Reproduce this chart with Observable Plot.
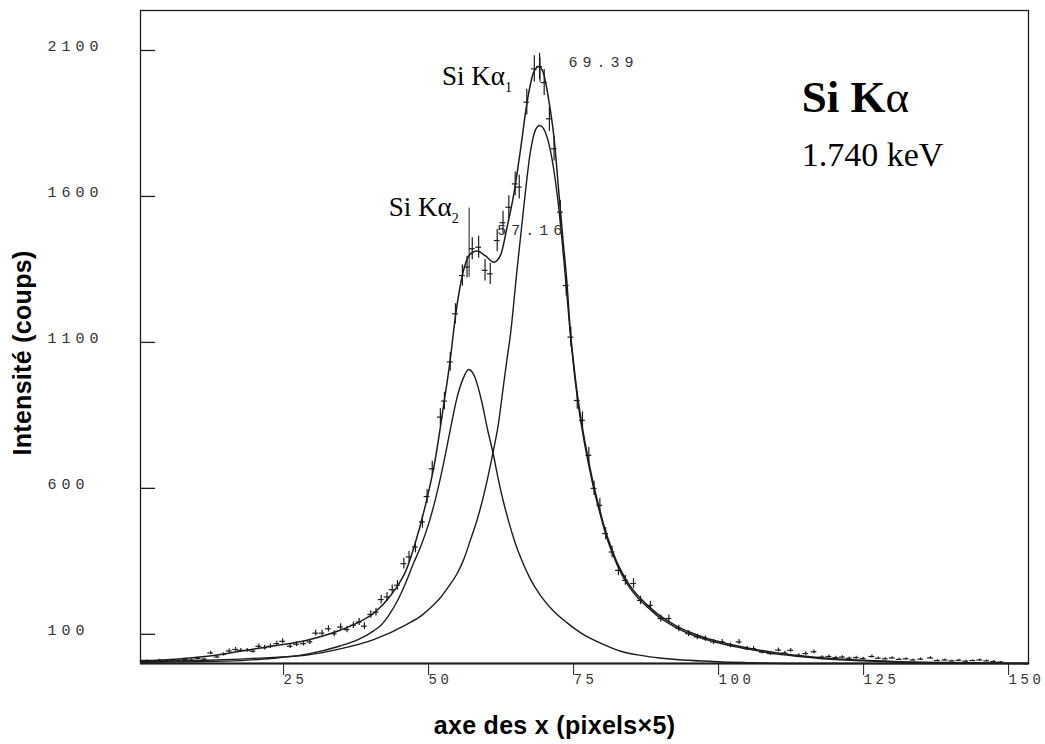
<!DOCTYPE html>
<html><head><meta charset="utf-8">
<script src="https://cdn.jsdelivr.net/npm/d3@7"></script>
<script src="https://cdn.jsdelivr.net/npm/@observablehq/plot@0.6"></script>
<style>
body{margin:0;background:#fff}
</style></head><body><div id="chart"></div>
<script>
// ---- axis ticks ----
const xTicks = [25, 50, 75, 100, 125, 150];
const yTicks = [100, 600, 1100, 1600, 2100];

// ---- measured spectrum (counts) ----
const dataX = [
  1.6,2.7,3.8,4.9,6.0,7.1,8.2,9.3,10.4,11.5,
  12.6,13.7,14.8,15.8,16.9,17.8,18.9,19.9,20.9,21.9,
  22.9,24.0,25.0,26.3,27.4,28.6,29.7,30.7,31.8,32.9,
  33.9,35.0,36.1,37.2,38.2,39.1,40.2,41.1,42.0,43.0,
  43.9,44.8,45.9,46.8,47.9,49.1,49.9,50.8,52.2,52.9,
  53.9,54.8,56.0,56.8,57.7,58.8,59.9,60.8,62.0,63.0,
  64.0,65.1,65.8,67.1,68.4,69.3,70.1,71.0,71.8,72.9,
  73.9,74.7,75.8,76.7,77.8,78.7,79.7,80.7,81.8,82.9,
  84.1,85.5,86.7,88.4,90.2,91.6,93.3,95.0,96.5,97.9,
  99.3,100.8,102.2,103.7,105.1,106.2,107.7,109.1,110.5,111.6,
  112.6,114.0,115.2,116.6,118.0,119.2,120.4,121.5,122.7,123.9,
  125.1,126.6,127.7,128.9,130.1,131.3,132.5,133.7,135.0,136.7,
  137.9,139.2,140.4,141.6,142.8,144.0,145.2,146.4,147.6,148.8
];
const dataY = [
  9,7,11,9,12,10,14,12,17,15,
  36,22,31,43,48,45,45,42,59,54,
  59,68,76,59,66,68,74,104,104,119,
  102,125,116,131,142,128,168,176,219,228,
  253,268,342,365,399,485,572,667,844,899,
  1033,1198,1329,1358,1421,1426,1347,1335,1449,1510,
  1563,1643,1632,1923,2037,2045,1990,1866,1763,1546,
  1295,1118,901,833,713,600,542,445,382,319,
  285,274,216,199,154,154,120,102,91,85,
  74,74,62,74,51,51,39,34,46,36,
  45,28,34,40,22,24,20,22,18,20,
  17,24,18,16,19,14,16,12,15,19,
  10,12,9,11,8,10,12,9,7,5
];

// ---- fitted total curve ----
const fitX = [0.5,6,12,17.7,23.4,29.2,34.9,38,40.7,43.6,46.5,47.6,49.9,51.1,52.8,53.9,54.8,56,56.8,57.7,58.5,60,61.4,62.6,63.7,64.9,66,67.2,68.3,69.2,70,70.9,71.8,72.6,73.3,74,74.6,75.2,75.8,76.8,77.8,78.7,79.7,80.7,81.7,82.7,83.7,84.7,86,87.9,89.5,91.3,93.5,95.9,98.5,101.7,105,110.3,114,118.9,125,130.4,140,153.6];
const fitY = [10,14,25,42,60,80,114,140,172,232,330,395,565,675,890,1040,1190,1330,1385,1408,1413,1396,1375,1400,1495,1612,1758,1929,2026,2045,2020,1929,1800,1620,1460,1310,1140,1025,925,795,690,605,525,452,395,345,305,272,238,200,172,148,122,102,84,68,54,36,27,18,11,7,3,0];

// ---- Si Kα1 component ----
const ka1X = [0.5,12,17.7,23.5,29.2,34.9,40.7,46.5,49,51,52.2,53.5,55,56.2,57.5,58.5,59.1,60.3,61.4,62.2,62.9,63.6,64.3,65.4,66.6,67.7,68.6,69.3,70.3,71.5,72.6,73.7,74.6,75.2,75.8,76.8,77.8,78.7,79.7,80.7,81.7,82.7,83.7,84.7,86,87.9,89.5,91.3,93.5,95.9,98.5,101.7,105,110.3,114,118.9,125,130.4,140,153.6];
const ka1Y = [6,11,15,21,29,50,82,135,165,200,225,260,305,355,430,490,532,630,735,820,925,1030,1130,1345,1568,1750,1828,1843,1820,1723,1563,1335,1130,1012,912,782,678,594,515,443,386,337,297,264,230,193,165,141,116,96,79,63,50,32,24,15,9,5,2,0];

// ---- Si Kα2 component ----
const ka2X = [0.5,10,17.7,23.5,29.2,34.9,38,40.7,41.9,43.3,44.8,46.2,47.6,48.8,50.2,51.5,52.8,54,55,56.1,57.1,58.1,59.3,60.3,61.4,62.2,63,64,64.9,66.3,67.7,69.5,71.7,74,76.4,80,83.3,87,90,95,100,105,113,153.6];
const ka2Y = [4,6,10,18,32,60,82,112,130,165,215,275,345,400,480,575,690,810,905,975,1007,983,900,805,710,630,560,485,425,350,290,232,180,140,105,68,42,27,19,11,6,3,0,0];

// ---- fitted peak positions and annotations ----
const peakPos = [57.16, 69.39];
const peakBarLow = [1323, 1990];
const peakBarHigh = [1560, 2075];
const posLabels = ["57.16", "69.39"];
const posLabelX = [62.0, 74.3];
const posLabelY = [1483, 2059];
const lineNames = ["Si Kα", "Si Kα"];
const lineSubs = ["1", "2"];
const lineNameX = [52.5, 43.3];
const lineNameY = [2011, 1564];
const titleLines = ["Si Kα"];
const energyLines = ["1.740 keV"];
const titleX = [114.5];
const titleY = [1940];
const energyY = [1740];

const xDomain = [0.5, 153.6];
const yDomain = [0, 2237];

const data = dataX.map((x, i) => ({x, y: dataY[i]}));
const fit = fitX.map((x, i) => ({x, y: fitY[i]}));
const ka1 = ka1X.map((x, i) => ({x, y: ka1Y[i]}));
const ka2 = ka2X.map((x, i) => ({x, y: ka2Y[i]}));

const ink = "#1c1c1c";
const mono = "Liberation Mono";
const serif = "Liberation Serif";

const svg = Plot.plot({
  width: 1045,
  height: 744,
  marginLeft: 140,
  marginRight: 17,
  marginTop: 10,
  marginBottom: 81,
  style: {fontFamily: "Liberation Sans", background: "white", color: ink},
  x: {domain: xDomain},
  y: {domain: yDomain},
  marks: [
    Plot.frame({stroke: ink, strokeWidth: 1.3}),
    Plot.ruleY([0], {stroke: ink, strokeWidth: 2.2}),
    Plot.ruleY(yTicks, {y: d => d, x1: xDomain[0], x2: xDomain[0] + 2.6, stroke: ink, strokeWidth: 1.3}),
    Plot.axisY(yTicks, {tickSize: 0, tickPadding: 0, textAnchor: "start", dx: -93, dy: -4,
      tickFormat: d => String(d), fontFamily: mono, fontSize: 15, fill: "#333", label: null}),
    Plot.axisX(xTicks, {tickSize: 12, tickPadding: -1, textAnchor: "start", dx: 1, stroke: ink,
      tickFormat: d => String(d), fontFamily: mono, fontSize: 14, fill: "#333", label: null}),
    Plot.line(ka2, {x: "x", y: "y", curve: "monotone-x", stroke: ink, strokeWidth: 1.4}),
    Plot.line(ka1, {x: "x", y: "y", curve: "monotone-x", stroke: ink, strokeWidth: 1.4}),
    Plot.line(fit, {x: "x", y: "y", curve: "monotone-x", stroke: ink, strokeWidth: 1.5}),
    Plot.ruleX(data, {x: "x", y1: d => d.y - Math.sqrt(d.y), y2: d => d.y + Math.sqrt(d.y), stroke: ink, strokeWidth: 1.2}),
    Plot.ruleY(data, {y: "y", x1: d => d.x - 0.5, x2: d => d.x + 0.5, stroke: ink, strokeWidth: 1.2}),
    Plot.ruleX(peakPos, {x: d => d, y1: (d, i) => peakBarLow[i], y2: (d, i) => peakBarHigh[i], stroke: ink, strokeWidth: 1}),
    Plot.text(posLabels, {x: (d, i) => posLabelX[i], y: (d, i) => posLabelY[i], text: d => d, textAnchor: "start",
      fontFamily: mono, fontSize: 15, fill: "#333", ariaLabel: () => "pos-labels"}),
    Plot.text(lineNames, {x: (d, i) => lineNameX[i], y: (d, i) => lineNameY[i], text: d => d, textAnchor: "start",
      fontFamily: serif, fontSize: 27, fill: "#000", ariaLabel: () => "line-names"}),
    Plot.text(titleLines, {x: (d, i) => titleX[i], y: (d, i) => titleY[i], text: d => d, textAnchor: "start",
      fontFamily: serif, fontSize: 45, fontWeight: "bold", fill: "#000", ariaLabel: () => "line-title"}),
    Plot.text(energyLines, {x: (d, i) => titleX[i], y: (d, i) => energyY[i], text: d => d, textAnchor: "start",
      fontFamily: serif, fontSize: 34, fill: "#000"}),
    Plot.text(["axe des x (pixels×5)"], {frameAnchor: "bottom", textAnchor: "middle", dx: -30, dy: 70,
      fontFamily: "Liberation Sans", fontWeight: "bold", fontSize: 25, fill: "#000", ariaLabel: () => "axis-title"}),
    Plot.text(["Intensité (coups)"], {frameAnchor: "left", textAnchor: "middle", rotate: -90, dx: -118, dy: 16,
      fontFamily: "Liberation Sans", fontWeight: "bold", fontSize: 25, fill: "#000", ariaLabel: () => "axis-title"})
  ]
});

const s = d3.select(svg);
s.selectAll('g[aria-label="y-axis tick label"] text, text[aria-label="pos-labels"]')
  .style("letter-spacing", "5px");
s.selectAll('g[aria-label="x-axis tick label"] text').style("letter-spacing", "3.5px");
s.selectAll('text[aria-label="axis-title"]').style("letter-spacing", "0.3px");
s.selectAll('text[aria-label="line-names"]').each(function(d, i) {
  const t = this.textContent;
  this.textContent = "";
  const el = d3.select(this);
  el.append("tspan").text(t);
  el.append("tspan").attr("dy", 7).attr("font-size", 14).text(lineSubs[i]);
});
s.selectAll('text[aria-label="line-title"]').each(function() {
  const t = this.textContent;
  this.textContent = "";
  const el = d3.select(this);
  el.append("tspan").text(t.slice(0, -1));
  el.append("tspan").attr("font-weight", "normal").text(t.slice(-1));
});
document.getElementById("chart").appendChild(svg);
</script>
</body></html>
